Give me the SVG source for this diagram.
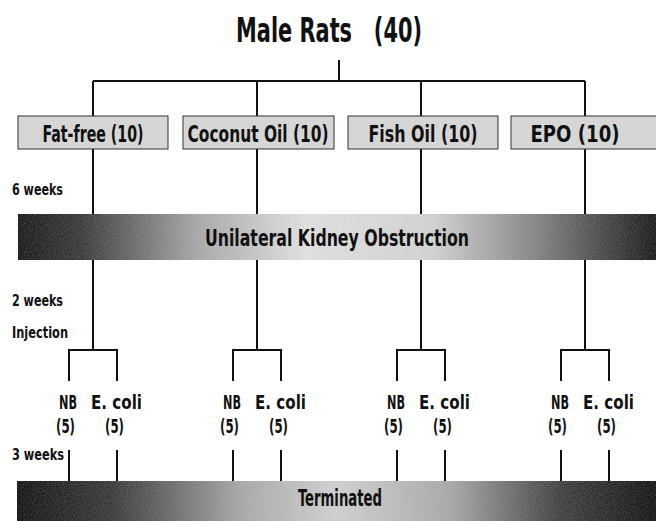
<svg xmlns="http://www.w3.org/2000/svg" width="656" height="521" viewBox="0 0 656 521">
<style>
  .t{font-family:"Liberation Sans Narrow","DejaVu Sans Condensed","Liberation Sans",sans-serif;font-weight:bold;fill:#111}
  .title{font-size:33px}
  .box{fill:#d6d6d6;stroke:#333;stroke-width:1}
  .bt{font-size:23px;text-anchor:middle}
  .side{font-size:15px}
  .lab{font-size:20px}
  .band{font-size:23px;text-anchor:middle}
  .ln{stroke:#111;stroke-width:2;fill:none}
</style>
<defs>
  <linearGradient id="g1" x1="0" y1="0" x2="1" y2="0">
    <stop offset="0" stop-color="#1a1a1a"/>
    <stop offset="0.1" stop-color="#3a3a3a"/>
    <stop offset="0.28" stop-color="#a8a8a8"/>
    <stop offset="0.45" stop-color="#e2e2e2"/>
    <stop offset="0.65" stop-color="#d4d4d4"/>
    <stop offset="0.82" stop-color="#808080"/>
    <stop offset="1" stop-color="#1a1a1a"/>
  </linearGradient>
  <linearGradient id="g2" x1="0" y1="0" x2="1" y2="0">
    <stop offset="0" stop-color="#141414"/>
    <stop offset="0.15" stop-color="#3a3a3a"/>
    <stop offset="0.35" stop-color="#a8a8a8"/>
    <stop offset="0.5" stop-color="#d2d2d2"/>
    <stop offset="0.68" stop-color="#a8a8a8"/>
    <stop offset="0.85" stop-color="#404040"/>
    <stop offset="1" stop-color="#141414"/>
  </linearGradient>
  <filter id="speck" x="0" y="0" width="1" height="1">
    <feTurbulence type="fractalNoise" baseFrequency="0.9" numOctaves="1" seed="3"/>
    <feColorMatrix type="matrix" values="0 0 0 0 0.5  0 0 0 0 0.5  0 0 0 0 0.5  1.2 0 0 0 -0.45"/>
  </filter>
</defs>

<g id="title">
  <text class="t title" x="236" y="42" textLength="186" lengthAdjust="spacingAndGlyphs" xml:space="preserve">Male Rats   (40)</text>
</g>

<g id="connectors">
  <path class="ln" d="M339 60V81M93 81H585M93 81V116M257 81V116M421 81V116M585 81V116"/>
  <path class="ln" d="M93 149V214M257 149V214M421 149V214M585 149V214"/>
  <path class="ln" d="M93 260V350M257 260V350M421 260V350M585 260V350"/>
  <path class="ln" d="M69 381V350H117V381M233 381V350H281V381M397 381V350H445V381M561 381V350H609V381"/>
  <path class="ln" d="M69 450V481M117 450V481M233 450V481M281 450V481M397 450V481M445 450V481M561 450V481M609 450V481"/>
</g>

<g id="fatfree"><rect class="box" x="18" y="116" width="150" height="33"/><text class="t bt" x="93" y="142" textLength="101" lengthAdjust="spacingAndGlyphs">Fat-free (10)</text></g>
<g id="coconut"><rect class="box" x="183" y="116" width="151" height="33"/><text class="t bt" x="258" y="142" textLength="141" lengthAdjust="spacingAndGlyphs">Coconut Oil (10)</text></g>
<g id="fish"><rect class="box" x="348" y="116" width="150" height="33"/><text class="t bt" x="423" y="142" textLength="109" lengthAdjust="spacingAndGlyphs">Fish Oil (10)</text></g>
<g id="epo"><rect class="box" x="511" y="116" width="150" height="33"/><text class="t bt" x="575" y="142" textLength="89" lengthAdjust="spacingAndGlyphs">EPO (10)</text></g>

<g id="labels">
  <text class="t side" x="12" y="195" textLength="51" lengthAdjust="spacingAndGlyphs">6 weeks</text>
  <text class="t side" x="12" y="306" textLength="51" lengthAdjust="spacingAndGlyphs">2 weeks</text>
  <text class="t side" x="12" y="338" textLength="56" lengthAdjust="spacingAndGlyphs">Injection</text>
  <text class="t side" x="12" y="460" textLength="52" lengthAdjust="spacingAndGlyphs">3 weeks</text>
</g>

<g id="obstruction">
  <rect x="18" y="214" width="638" height="46" fill="url(#g1)"/>
  <rect x="18" y="214" width="638" height="46" filter="url(#speck)" opacity="0.5"/>
  <text class="t band" x="337" y="246" textLength="264" lengthAdjust="spacingAndGlyphs">Unilateral Kidney Obstruction</text>
</g>

<g id="g1nb"><text class="t lab" x="59" y="409" textLength="18" lengthAdjust="spacingAndGlyphs">NB</text><text class="t lab" x="56" y="433" textLength="19" lengthAdjust="spacingAndGlyphs">(5)</text></g>
<g id="g1ec"><text class="t lab" x="91" y="409" textLength="51" lengthAdjust="spacingAndGlyphs">E. coli</text><text class="t lab" x="105" y="433" textLength="19" lengthAdjust="spacingAndGlyphs">(5)</text></g>
<g id="g2nb"><text class="t lab" x="223" y="409" textLength="18" lengthAdjust="spacingAndGlyphs">NB</text><text class="t lab" x="220" y="433" textLength="19" lengthAdjust="spacingAndGlyphs">(5)</text></g>
<g id="g2ec"><text class="t lab" x="255" y="409" textLength="51" lengthAdjust="spacingAndGlyphs">E. coli</text><text class="t lab" x="269" y="433" textLength="19" lengthAdjust="spacingAndGlyphs">(5)</text></g>
<g id="g3nb"><text class="t lab" x="387" y="409" textLength="18" lengthAdjust="spacingAndGlyphs">NB</text><text class="t lab" x="384" y="433" textLength="19" lengthAdjust="spacingAndGlyphs">(5)</text></g>
<g id="g3ec"><text class="t lab" x="419" y="409" textLength="51" lengthAdjust="spacingAndGlyphs">E. coli</text><text class="t lab" x="433" y="433" textLength="19" lengthAdjust="spacingAndGlyphs">(5)</text></g>
<g id="g4nb"><text class="t lab" x="551" y="409" textLength="18" lengthAdjust="spacingAndGlyphs">NB</text><text class="t lab" x="548" y="433" textLength="19" lengthAdjust="spacingAndGlyphs">(5)</text></g>
<g id="g4ec"><text class="t lab" x="583" y="409" textLength="51" lengthAdjust="spacingAndGlyphs">E. coli</text><text class="t lab" x="597" y="433" textLength="19" lengthAdjust="spacingAndGlyphs">(5)</text></g>

<g id="terminated">
  <rect x="17" y="481" width="639" height="40" fill="url(#g2)"/>
  <rect x="17" y="481" width="639" height="40" filter="url(#speck)" opacity="0.5"/>
  <text class="t band" x="340" y="506" textLength="84" lengthAdjust="spacingAndGlyphs">Terminated</text>
</g>
</svg>
